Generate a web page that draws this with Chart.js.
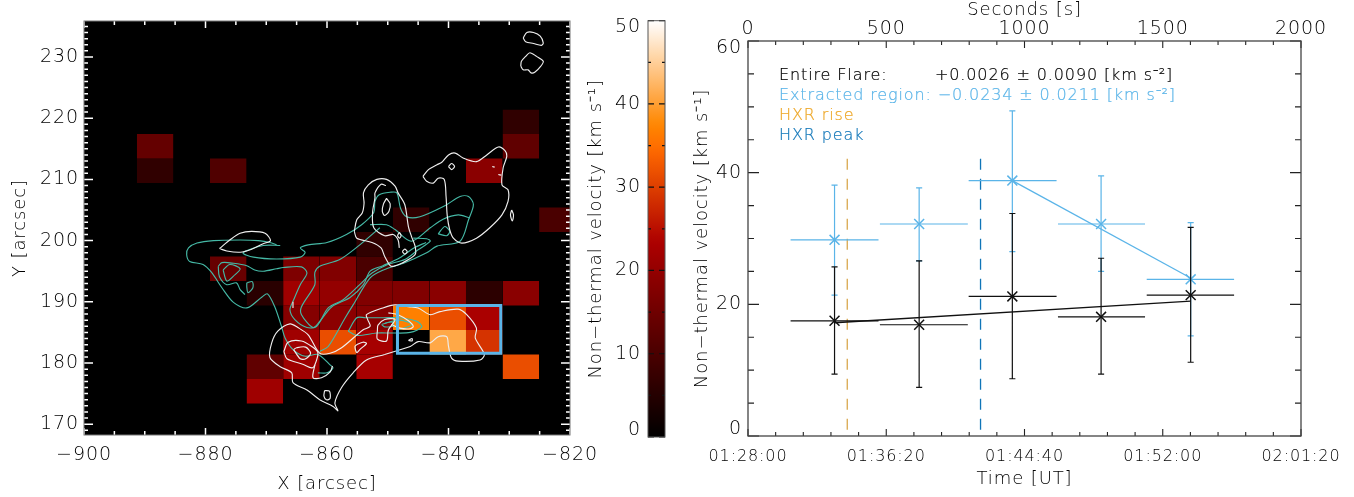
<!DOCTYPE html>
<html>
<head>
<meta charset="utf-8">
<script src="https://cdnjs.cloudflare.com/ajax/libs/Chart.js/4.4.1/chart.umd.min.js"></script>
<style>
  html, body { margin: 0; padding: 0; background: #fff; overflow: hidden; }
  canvas { position: absolute; top: 0; }
  .note { position: absolute; white-space: pre; font: 200 16px "DejaVu Sans"; line-height: 20px; letter-spacing: 0.88px; -webkit-text-stroke: 0.2px currentColor; }
</style>
</head>
<body>
<canvas id="mapChart" width="620" height="497" style="left:0"></canvas>
<canvas id="barChart" width="105" height="497" style="left:585px"></canvas>
<canvas id="plotChart" width="674" height="497" style="left:680px"></canvas>

<div class="note" style="left:779px;top:65px;color:#000">Entire Flare:</div>
<div class="note" style="left:935px;top:65px;color:#000">+0.0026 ± 0.0090 [km s⁻²]</div>
<div class="note" style="left:779px;top:85px;color:#5ab4e8">Extracted region: −0.0234 ± 0.0211 [km s⁻²]</div>
<div class="note" style="left:779px;top:105px;color:#eda523">HXR rise</div>
<div class="note" style="left:779px;top:125px;color:#0f75b8">HXR peak</div>

<script>
const FONT = '"DejaVu Sans"';
const INK = '#000';

// --- left panel: velocity map, rows north to south, one cell = 6" x 4"
const cellWest = -891.3, cellWidth = 6.02;
const cellNorth = 221.4, cellHeight = 4.0;
const _ = null;
const velocityGrid = [
  [_, _, _, _, _, _, _, _, _, _, 6.5, _],
  [13.5, _, _, _, _, _, _, _, _, _, 13, _],
  [6.5, _, 10.8, _, _, _, _, _, _, 18.7, _, _],
  [_, _, _, _, _, _, _, _, _, _, _, _],
  [_, _, _, _, _, _, _, 6.5, _, _, _, 10],
  [_, _, _, _, _, _, 6.5, _, _, _, _, _],
  [_, _, 14, _, 17, 17.5, 10, _, _, _, _, _],
  [_, _, _, 5.5, 21.6, 20, 17.5, 17.5, 18.7, 6, 18.7, _],
  [_, _, _, _, 18, 19, 18, 36.8, 31.6, 23, _, _],
  [_, _, _, _, 21.6, 31.6, 22.5, _, 41, 28.8, _, _],
  [_, _, _, 13, 21.5, _, 22.5, _, _, _, 31.6, _],
  [_, _, _, 21.5, _, _, _, _, _, _, _, _]
];
const regionBox = [[-848.4, 189.4], [-831.4, 189.4], [-831.4, 181.6], [-848.4, 181.6], [-848.4, 189.4]];

const whiteContours = [
  [[-827.7,233.1],[-827.1,234],[-826,234],[-824.9,233.4],[-824.4,232.3],[-824.7,231.9],[-826,232.2],[-827.3,232.5],[-827.7,233.1]],
  [[-828.1,228.5],[-828,229.3],[-827.3,230.1],[-826.6,230.7],[-825.5,230.1],[-824.4,229.3],[-824.8,228.5],[-825.8,227.5],[-826.4,227.4],[-826.9,227.9],[-827.7,227.9],[-828.1,228.5]],
  [[-844.2,210.5],[-843.3,211.6],[-841.9,212.4],[-841.1,212.8],[-840,214],[-838.9,214.3],[-837.6,213.5],[-835.4,212.9],[-833.7,214],[-831.8,215.3],[-830.7,214.7],[-830.4,213.8],[-831,211.9],[-831.2,209.1],[-830.2,208.3],[-830.2,206.4],[-831.2,204.2],[-833.2,202.1],[-835.4,200.4],[-837.8,199.6],[-839.2,200.4],[-839.8,201.8],[-840.2,204],[-840.4,207.2],[-840.7,210],[-841.7,210.2],[-842.5,209.4],[-843.6,209.7],[-844.2,210.5]],
  [[-840,212.1],[-839.5,212.6],[-839,212.1],[-839.5,211.6],[-840,212.1]],
  [[-829.6,205],[-829.3,204.2],[-829.5,203.2],[-829.8,204.2],[-829.6,205]],
  [[-832.8,212.1],[-832.4,212]],
  [[-831.8,210.8],[-831.3,210.7]],
  [[-855.5,201.5],[-855.1,203.4],[-854.2,204.5],[-853.9,206.1],[-854,207.8],[-853.2,209.1],[-851.8,210],[-850.2,210],[-848.8,208.9],[-848.3,207.8],[-847.2,205.9],[-846.6,202.3],[-846.1,200.7],[-845.5,199.1],[-845.5,197.7],[-847.7,196.3],[-849.1,195.8],[-849.6,195.9],[-850.5,197.4],[-851.1,198.8],[-852.6,199.7],[-855.1,200.4],[-855.5,201.5]],
  [[-850.3,209],[-851.1,209.2],[-852.1,207.8],[-852.1,207],[-852.5,204.6],[-852.3,202.1],[-850.5,200.8],[-849.1,201],[-848.3,200.1],[-848.1,198.8]],
  [[-850.2,206.9],[-849.6,206],[-849.8,204.8],[-850.5,204.1],[-850.9,204.8],[-850.7,206],[-850.2,206.9]],
  [[-847.6,198.2],[-847.2,198.6],[-846.8,198.2],[-847.2,197.8],[-847.6,198.2]],
  [[-848.4,200.8],[-848.1,201.3],[-847.8,200.8],[-848.1,200.4],[-848.4,200.8]],
  [[-877.7,198.7],[-876,200.1],[-874.3,201.2],[-872.4,201.5],[-870.2,201.2],[-869.3,200],[-870.5,199.5],[-872.4,198.6],[-874.3,198.1],[-876.5,198.3],[-877.7,198.7]],
  [[-850.5,181.4],[-846.3,182.7],[-845,183.5],[-843,183.3],[-841.7,184.3],[-840.3,184.3],[-840,182.7],[-839.5,180.8],[-838.4,180.3],[-834.8,180.5],[-834.1,181.4],[-835.6,184.1],[-835.4,185.7],[-837,187.9],[-838.4,188.8],[-841.4,188.4],[-843,187.9],[-845,189],[-846.6,189.2],[-848.8,189.5],[-850.8,189],[-853.5,187.9],[-853.3,187.1],[-852.9,186],[-854.1,185.4],[-857.6,182.5],[-859.5,181.6],[-861.2,181.6],[-863.1,184.6],[-864.8,185.8],[-866.1,186.4],[-868.1,185.2],[-869.1,183.3],[-869.4,180.9],[-867.7,179.4],[-865.8,178.4],[-865.6,176.8],[-863.3,175.6],[-861.2,174],[-859,172.9],[-858.2,172.2],[-858.7,173.5],[-857.6,176],[-855.7,178.4],[-853.5,180.5],[-850.5,181.4]],
  [[-867.1,181.9],[-866.4,183.4],[-864.2,183.6],[-862.5,182.7],[-861.5,181.7],[-862,179.7],[-862.5,179.2],[-864,179.8],[-866.6,180.7],[-867.1,181.9]],
  [[-862,179.7],[-862.3,177.6],[-860.9,177.6],[-859.5,178.5],[-859.1,179.5]],
  [[-865.5,182.2],[-865,182.5],[-863.5,182.6],[-862.7,181.6],[-863.5,180.7],[-864.4,180.7],[-865.5,182.2]],
  [[-860.4,175.5],[-859.6,175.4],[-859.5,174.2],[-860.1,174],[-860.5,174.6],[-860.4,175.5]],
  [[-855.1,183],[-854.1,183.4],[-853.5,183.2],[-854.6,182.2],[-855.1,181.7],[-855.4,182.7],[-855.1,183]],
  [[-851.7,185.4],[-851.7,183.9],[-850.2,183.6],[-849.9,185.4],[-848.8,187.1],[-850.5,187.1],[-851.6,186.2],[-851.7,185.4]],
  [[-849.9,188.2],[-848.3,187.9],[-846.6,186.9],[-845.8,186],[-846.3,185.6],[-848,185.7],[-849.4,186.3]],
  [[-846.6,183.7],[-846,184],[-846,183.6],[-846.6,183.7]],
  [[-865.6,190],[-865.6,189]]
];

const tealContours = [
  [[-868.3,199.3],[-869.4,199.7],[-871.3,200],[-874.3,200.1],[-878.7,200],[-881.4,199.6],[-882.8,198.8],[-883.1,197.7],[-882.6,196.6],[-880.4,196.1],[-879,194.8],[-877.3,192.3],[-875.4,189.9],[-873.2,189],[-870.7,190.8],[-869.8,191.3],[-868.6,189.2],[-867.5,186],[-866.9,184.1],[-865.6,182.2],[-863.6,181.1],[-861.5,181.4],[-859.5,179.7],[-859,179.2],[-860,178.4],[-861.5,178.4]],
  [[-867.7,199.2],[-870.5,199.2],[-873.8,198],[-872.1,197.3],[-868.3,197],[-864.4,197.3],[-863.6,198.1],[-864.4,198.8],[-863.1,199.3],[-860,199.7],[-856.8,201],[-854.3,202.6],[-852.3,204.6],[-852.1,206.4],[-851.4,207.5],[-849.6,207.9],[-848.5,207.8],[-847.9,205.3],[-846.9,203.9],[-844.7,203.9],[-840.6,205.7],[-838.1,207.2],[-836.7,207.2],[-835.9,205.9],[-836.7,203.4],[-838.1,199.9],[-841.9,199.1],[-843.6,198],[-847.4,196.3],[-850.7,195.2],[-852.9,193.9],[-855.7,189.5],[-857,187.4],[-859.8,182.7],[-861.2,181.9]],
  [[-877.9,195.8],[-877.3,196.4],[-875.4,196.3],[-873.2,195.9],[-871.9,195.2],[-870.5,195],[-868.3,195.4],[-867.2,195.6],[-864.2,195.7],[-863.3,194.7],[-864.4,192.8],[-865.5,190.3],[-866.1,188.7],[-865.3,187.1],[-863.3,185.8],[-861.7,186],[-859.8,189],[-857.4,190.3],[-854.6,192.8],[-852.6,194.7],[-850,196.1],[-847.2,196.9],[-845,198.5],[-843,199.9],[-843.6,200.3],[-845.8,200.4]],
  [[-877.9,195.8],[-877.7,194.1],[-876.5,192.8],[-874.9,193.1],[-874.3,192],[-873.5,191.2]],
  [[-877.1,195.2],[-876,196.1],[-874.3,195.4],[-875.4,194.2],[-876.5,193.4],[-877.1,195.2]],
  [[-873.2,193.1],[-872.3,193.3],[-872.2,192.3],[-873,191.5],[-873.2,192.4],[-873.2,193.1]],
  [[-851.3,202.1],[-854.6,199.3],[-857.9,196.9],[-861.2,195.8],[-862,194.8],[-862,192.8],[-864.2,189.2],[-864.2,187.9],[-862.3,185.8],[-861.2,186.8],[-859.2,189.2],[-856.2,190.7],[-854,192.8],[-852.9,195],[-850.8,195.9],[-848,197.2],[-845.7,198.8],[-843.7,199.7]],
  [[-852.9,202.6],[-850.2,202.6],[-848.8,201.8],[-846.1,199.9],[-843,202.1],[-840.9,203.5],[-838.4,204.2],[-836.5,203.7]],
  [[-841.7,201.1],[-840.6,202.3],[-839.8,201.5],[-840.3,200.8],[-841.7,201.1]],
  [[-856.5,185.2],[-855.1,187.4],[-853.7,187.4],[-850.7,187.4],[-848,187.4],[-845.2,186.8],[-844.4,185.9],[-846.3,185],[-849.1,184.9],[-851.8,184.9],[-855.1,184.5],[-856.5,185.2]],
  [[-851,186.3],[-849.4,186.7],[-849,186.1],[-850.5,185.9],[-851,186.3]],
  [[-850.5,186.5],[-848,187],[-846,186.3],[-848,185.5]]
];

const mapXMajor = [-900, -880, -860, -840, -820];
const mapXMinor = [-895, -890, -885, -875, -870, -865, -855, -850, -845, -835, -830, -825];
const mapYMajor = [170, 180, 190, 200, 210, 220, 230];

// --- colour bar
const barMajor = [0, 10, 20, 30, 40, 50];
const barMinor = [5, 15, 25, 35, 45];

// --- right panel, x in seconds since 01:28:00
const binTimes = [313, 619, 956, 1277, 1601];
const binStart = [154, 477, 798, 1121, 1442];
const binEnd = [472, 795, 1116, 1436, 1758];

const flareVelocity = [17.5, 16.9, 21.2, 18.1, 21.4];
const flareHigh = [25.7, 26.6, 33.8, 27, 31.7];
const flareLow = [9.4, 7.4, 8.7, 9.4, 11.2];
const flareFit = [[313, 17.2], [1601, 20.5]];

const regionVelocity = [29.8, 32.2, 38.8, 32.2, 23.8];
const regionHigh = [38.1, 37.7, 49.4, 39.5, 32.4];
const regionLow = [21.4, 26.6, 28, 25, 15.2];
const regionFit = [[956, 38.8], [1601, 24]];

const hxrRise = 359, hxrPeak = 841, hxrTop = 42.1;

const secondsTicks = [0, 500, 1000, 1500, 2000];
const secondsMinor = [100, 200, 300, 400, 600, 700, 800, 900, 1100, 1200, 1300, 1400, 1600, 1700, 1800, 1900];
const timeLabels = ['01:28:00', '01:36:20', '01:44:40', '01:52:00', '02:01:20'];
const velocityTicks = [0, 20, 40, 60];
const velocityMinor = [5, 10, 15, 25, 30, 35, 45, 50, 55];

function pts(list) { return list.map((p) => ({x: p[0], y: p[1]})); }

// IDL red temperature table
function heat(v) {
  const t = Math.max(0, Math.min(1, v / 50));
  const r = Math.min(1, t / 0.69);
  const g = Math.max(0, (t - 0.47) / 0.53);
  const b = Math.max(0, (t - 0.75) / 0.25);
  return 'rgb(' + Math.round(r * 255) + ',' + Math.round(g * 255) + ',' + Math.round(b * 255) + ')';
}

function cellDatasets() {
  let res = [];
  velocityGrid.forEach((row, r) => {
    row.forEach((v, c) => {
      if (v === null) return;
      const x0 = cellWest + c * cellWidth;
      const top = cellNorth - r * cellHeight;
      res.push({
        data: [{x: x0, y: top}, {x: x0 + cellWidth, y: top}],
        fill: {value: top - cellHeight},
        backgroundColor: heat(v),
        borderWidth: 0,
        pointRadius: 0
      });
    });
  });
  return res;
}

function contourDatasets(list, color) {
  return list.map((c) => ({
    data: pts(c), borderColor: color, borderWidth: 1.15, pointRadius: 0, tension: 0.3, fill: false
  }));
}

// frame and inward ticks, all placed by the chart's scales
const frameTicks = {
  id: 'frameTicks',
  afterDatasetsDraw(chart, args, o) {
    const {ctx, chartArea: a, scales} = chart;
    const x = scales.x, y = scales.y;
    ctx.save();
    ctx.lineWidth = o.tickWidth;
    ctx.strokeStyle = o.tickColor;
    ctx.beginPath();
    function xTick(v, len) {
      const p = x.getPixelForValue(v);
      ctx.moveTo(p, a.top); ctx.lineTo(p, a.top + len);
      ctx.moveTo(p, a.bottom); ctx.lineTo(p, a.bottom - len);
    }
    function yTick(v, len) {
      const p = y.getPixelForValue(v);
      ctx.moveTo(a.left, p); ctx.lineTo(a.left + len, p);
      ctx.moveTo(a.right, p); ctx.lineTo(a.right - len, p);
    }
    (o.xMajor || []).forEach((v) => xTick(v, o.xMajorLen));
    (o.xMinor || []).forEach((v) => xTick(v, o.xMinorLen));
    (o.yMajor || []).forEach((v) => yTick(v, o.yMajorLen));
    (o.yMinor || []).forEach((v) => yTick(v, o.yMinorLen));
    ctx.stroke();
    ctx.lineWidth = o.frameWidth;
    ctx.strokeStyle = o.frameColor;
    ctx.strokeRect(a.left, a.top, a.right - a.left, a.bottom - a.top);
    ctx.restore();
  }
};

const spacing = {
  id: 'spacing',
  beforeDraw(chart) { chart.ctx.letterSpacing = '0.9px'; }
};

const plotBackground = {
  id: 'plotBackground',
  beforeDatasetsDraw(chart, args, o) {
    const {ctx, chartArea: a} = chart;
    if (o.color) {
      ctx.fillStyle = o.color;
      ctx.fillRect(a.left, a.top, a.right - a.left, a.bottom - a.top);
    }
  }
};

function fixedSize(prop, size) {
  return (scale) => { scale[prop] = size; };
}
function useTicks(values) {
  return (scale) => { scale.ticks = values.map((v) => ({value: v})); };
}
function tickFont() { return {family: FONT, size: 19, weight: 200, lineHeight: 0.72}; }
function titleOf(text, padding) {
  return {display: true, text: text, color: INK, font: {family: FONT, size: 18, weight: 200}, padding: padding};
}
function minusLabel(v) { return v < 0 ? '\u2212' + Math.abs(v) : String(v); }
// the end labels of a colour bar or velocity axis sit inside the axis span
function insideLabel(v, i, all) {
  if (i === 0) return [String(v), ''];
  if (i === all.length - 1) return ['', String(v)];
  return String(v);
}

// map panel
new Chart('mapChart', {
  type: 'line',
  data: {
    datasets: [{
      data: pts(regionBox), borderColor: '#5ab4e8', borderWidth: 3, pointRadius: 0, fill: false
    }].concat(
      contourDatasets(whiteContours, '#eeeeee'),
      contourDatasets(tealContours, '#45b8a5'),
      cellDatasets()
    )
  },
  plugins: [spacing, plotBackground, frameTicks],
  options: {
    responsive: false,
    animation: false,
    devicePixelRatio: 1,
    layout: {padding: {top: 21, right: 50}},
    plugins: {
      legend: {display: false},
      tooltip: {enabled: false},
      plotBackground: {color: '#000'},
      frameTicks: {
        xMajor: mapXMajor, xMinor: mapXMinor, yMajor: mapYMajor,
        yMinor: mapYMajor.flatMap((m) => [1, 2, 3, 4, 5, 6, 7, 8, 9, -1, -2].map((d) => m + d)),
        xMajorLen: 7, xMinorLen: 4, yMajorLen: 9, yMinorLen: 4,
        tickColor: '#fff', tickWidth: 1.5, frameColor: '#777', frameWidth: 1
      }
    },
    scales: {
      x: {
        type: 'linear', min: -900, max: -820,
        afterBuildTicks: useTicks(mapXMajor),
        afterFit: fixedSize('height', 62),
        grid: {display: false, drawTicks: false}, border: {display: false},
        ticks: {color: INK, font: tickFont(), padding: 13, maxRotation: 0, autoSkip: false, callback: minusLabel},
        title: titleOf('X [arcsec]', {top: 0, bottom: 2})
      },
      y: {
        type: 'linear', min: 168.24, max: 235.88,
        afterBuildTicks: useTicks(mapYMajor),
        afterFit: fixedSize('width', 84),
        grid: {display: false, drawTicks: false}, border: {display: false},
        ticks: {color: INK, font: tickFont(), padding: 5, autoSkip: false, callback: minusLabel},
        title: titleOf('Y [arcsec]', {top: 10, bottom: 0})
      }
    }
  }
});

// colour bar, gradient stops come from the same table as the map
const barGradient = {
  id: 'barGradient',
  beforeDatasetsDraw(chart) {
    const {ctx, chartArea: a, scales} = chart;
    const g = ctx.createLinearGradient(0, scales.y.getPixelForValue(0), 0, scales.y.getPixelForValue(50));
    for (let i = 0; i <= 50; i++) g.addColorStop(i / 50, heat(i));
    ctx.fillStyle = g;
    ctx.fillRect(a.left, a.top, a.right - a.left, a.bottom - a.top);
  }
};

new Chart('barChart', {
  type: 'line',
  data: {datasets: []},
  plugins: [spacing, barGradient, frameTicks],
  options: {
    responsive: false,
    animation: false,
    devicePixelRatio: 1,
    layout: {padding: {top: 20, right: 25, bottom: 60}},
    plugins: {
      legend: {display: false},
      tooltip: {enabled: false},
      frameTicks: {
        yMajor: barMajor, yMinor: barMinor,
        yMajorLen: 6, yMinorLen: 3,
        tickColor: '#111', tickWidth: 1.2, frameColor: '#555', frameWidth: 1
      }
    },
    scales: {
      x: {type: 'linear', min: 0, max: 1, display: false},
      y: {
        type: 'linear', min: 0, max: 50,
        afterBuildTicks: useTicks(barMajor),
        afterFit: fixedSize('width', 63),
        grid: {display: false, drawTicks: false}, border: {display: false},
        ticks: {color: INK, font: tickFont(), padding: 7, autoSkip: false, callback: insideLabel},
        title: titleOf('Non\u2212thermal velocity [km s\u207B\u00B9]', {top: 1, bottom: 0})
      }
    }
  }
});

// velocity against time
function crossBars(vel, high, low) {
  let res = [];
  const cap = 11;
  binTimes.forEach((t, i) => {
    res.push({x: t, y: low[i]}, {x: t, y: high[i]}, {x: NaN, y: NaN});
    res.push({x: t - cap, y: low[i]}, {x: t + cap, y: low[i]}, {x: NaN, y: NaN});
    res.push({x: t - cap, y: high[i]}, {x: t + cap, y: high[i]}, {x: NaN, y: NaN});
    res.push({x: binStart[i], y: vel[i]}, {x: binEnd[i], y: vel[i]}, {x: NaN, y: NaN});
  });
  return res;
}
function series(vel, high, low, fit, color) {
  return [
    {data: crossBars(vel, high, low), borderColor: color, borderWidth: 1.2, pointRadius: 0, fill: false},
    {data: pts(fit), borderColor: color, borderWidth: 1.3, pointRadius: 0, fill: false},
    {
      data: binTimes.map((t, i) => ({x: t, y: vel[i]})), showLine: false, pointStyle: 'crossRot',
      pointRadius: 7, pointBorderWidth: 1.5, pointBorderColor: color, borderColor: color
    }
  ];
}
function dashed(t, color) {
  return {
    data: [{x: t, y: hxrTop}, {x: t, y: 0}], borderColor: color, borderWidth: 1.3,
    borderDash: [11, 9], pointRadius: 0, fill: false
  };
}

new Chart('plotChart', {
  type: 'line',
  data: {
    datasets: series(flareVelocity, flareHigh, flareLow, flareFit, '#111').concat(
      series(regionVelocity, regionHigh, regionLow, regionFit, '#5ab4e8'),
      [dashed(hxrRise, '#d9a84e'), dashed(hxrPeak, '#0f75b8')]
    )
  },
  plugins: [spacing, frameTicks],
  options: {
    responsive: false,
    animation: false,
    devicePixelRatio: 1,
    layout: {padding: 0},
    plugins: {
      legend: {display: false},
      tooltip: {enabled: false},
      frameTicks: {
        xMajor: secondsTicks, xMinor: secondsMinor, yMajor: velocityTicks, yMinor: velocityMinor,
        xMajorLen: 7, xMinorLen: 4, yMajorLen: 11, yMinorLen: 6,
        tickColor: '#222', tickWidth: 1.1, frameColor: '#444', frameWidth: 1.3
      }
    },
    scales: {
      x: {
        type: 'linear', position: 'bottom', min: 0, max: 2000,
        afterBuildTicks: useTicks(secondsTicks),
        afterFit: fixedSize('height', 61),
        grid: {display: false, drawTicks: false}, border: {display: false},
        ticks: {
          color: INK, font: {family: FONT, size: 16, weight: 200}, padding: 11, maxRotation: 0, autoSkip: false,
          callback: (v) => timeLabels[secondsTicks.indexOf(v)]
        },
        title: titleOf('Time [UT]', {top: 0, bottom: 7})
      },
      top: {
        type: 'linear', position: 'top', min: 0, max: 2000,
        afterBuildTicks: useTicks(secondsTicks),
        afterFit: fixedSize('height', 41),
        grid: {display: false, drawTicks: false}, border: {display: false},
        ticks: {color: INK, font: tickFont(), padding: 5, maxRotation: 0, autoSkip: false, callback: (v) => String(v)},
        title: titleOf('Seconds [s]', {top: 0, bottom: 0})
      },
      y: {
        type: 'linear', position: 'left', min: 0, max: 60,
        afterBuildTicks: useTicks(velocityTicks),
        afterFit: fixedSize('width', 68),
        grid: {display: false, drawTicks: false}, border: {display: false},
        ticks: {color: INK, font: tickFont(), padding: 6, autoSkip: false, callback: insideLabel},
        title: titleOf('Non\u2212thermal velocity [km s\u207B\u00B9]', {top: 12, bottom: 0})
      },
      right: {
        type: 'linear', position: 'right', min: 0, max: 60,
        afterFit: fixedSize('width', 53),
        grid: {display: false, drawTicks: false}, border: {display: false},
        ticks: {display: false},
        title: {display: false}
      }
    }
  }
});
</script>
</body>
</html>
